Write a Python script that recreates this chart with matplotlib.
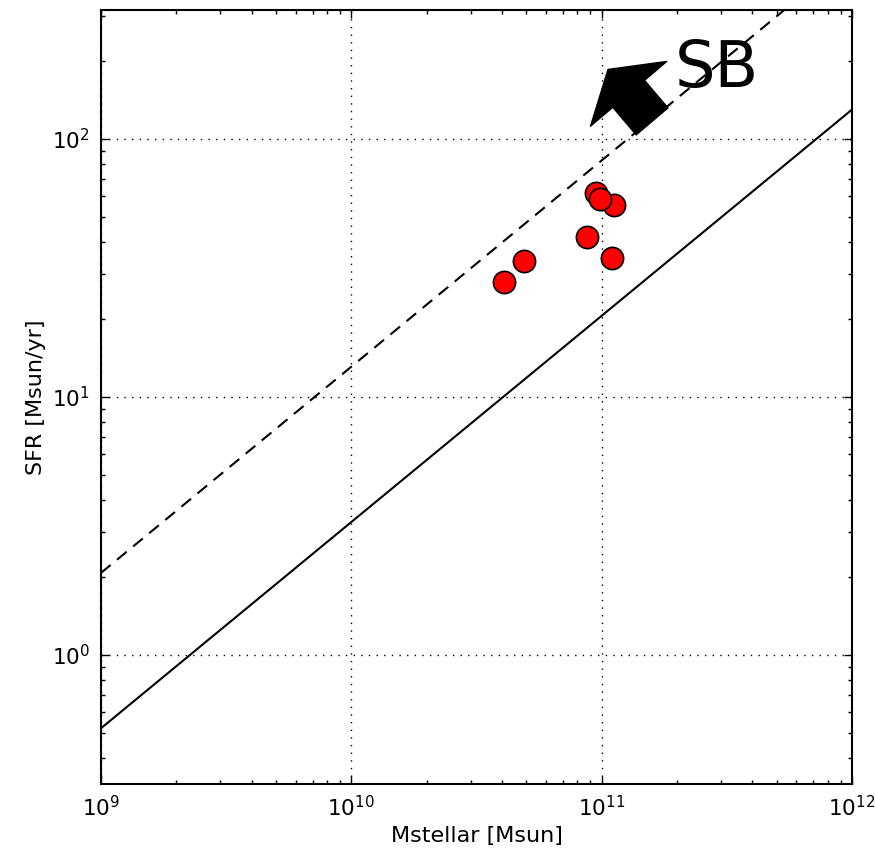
import numpy as np
import matplotlib
matplotlib.use("Agg")
from matplotlib import pyplot as plt

# galaxies
mstar = [4.08e10, 4.88e10, 8.71e10, 9.47e10, 1.12e11, 9.82e10, 1.10e11]
sfr = [27.8, 33.7, 41.8, 62.0, 55.4, 58.4, 34.7]

# main sequence and starburst (x4) lines
line_m = [1e9, 1e12]
ms_sfr = [0.52, 130.0]
sb_sfr = [2.08, 520.0]

# arrow towards starburst region
arrow_tip = (1.06e11, 186.0)
arrow_tail = (1.59e11, 117.0)
sb_pos = (2.89e11, 186.0)

plt.rcParams['xtick.direction'] = 'in'
plt.rcParams['ytick.direction'] = 'in'

fig = plt.figure(figsize=(8.75, 8.52), dpi=100)
ax = fig.add_axes([0.1154, 0.0798, 0.8583, 0.9085])

ax.plot(line_m, ms_sfr, color='black', lw=1.5)
ax.plot(line_m, sb_sfr, color='black', lw=1.5, ls=(0, (6, 4)))
ax.plot(mstar, sfr, 'o', ms=16, mfc='red', mec='black', mew=1.2, ls='none')

ax.annotate('', xy=arrow_tip, xytext=arrow_tail,
            arrowprops=dict(facecolor='black', edgecolor='black', width=30,
                            headwidth=72, headlength=23, shrink=0))
ax.text(sb_pos[0], sb_pos[1], 'SB', fontsize=46, ha='center', va='center')

ax.set_xscale('log')
ax.set_yscale('log')
ax.set_xlim(1e9, 1e12)
ax.set_ylim(10**-0.5, 10**2.5)
ax.grid(True, which='major', color='black', ls=(0, (1, 4.5)), lw=1)
ax.tick_params(which='both', top=True, right=True, labelsize=15.5, width=1)
ax.tick_params(which='major', length=6, pad=8)
ax.tick_params(which='minor', length=3)
for s in ax.spines.values():
    s.set_linewidth(1.5)

ax.set_xlabel('Mstellar [Msun]', fontsize=16)
ax.set_ylabel('SFR [Msun/yr]', fontsize=16)

fig.savefig('out.png')
